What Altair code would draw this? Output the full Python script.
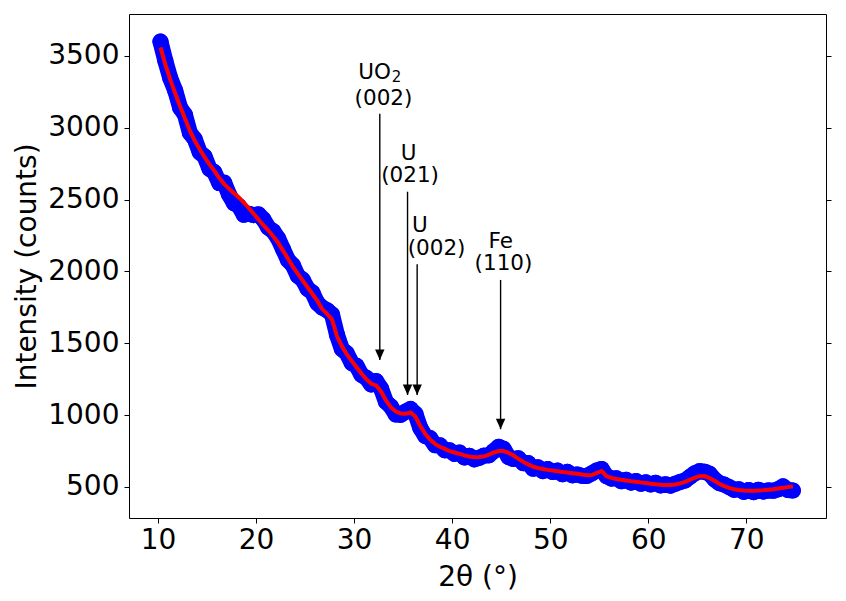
import altair as alt
import pandas as pd

# sampling grid (degrees 2-theta)
two_theta = [round(10.25 + 0.5 * i, 2) for i in range(130)]

# measured counts (blue scatter band)
blue_counts = [
    3600, 3465, 3345, 3260, 3140, 3090, 2965, 2920, 2830, 2800,
    2715, 2690, 2615, 2618, 2535, 2475, 2455, 2395, 2402, 2392,
    2397, 2362, 2305, 2280, 2230, 2155, 2080, 2044, 1970, 1943,
    1880, 1853, 1780, 1748, 1730, 1700, 1560, 1460, 1430, 1363,
    1343, 1280, 1260, 1213, 1237, 1185, 1092, 1060, 1005, 1002,
    1025, 1043, 1010, 910, 855, 840, 790, 790, 755, 755,
    730, 740, 705, 717, 692, 703, 718, 720, 750, 780,
    765, 708, 695, 700, 665, 667, 627, 637, 610, 624,
    604, 614, 589, 605, 581, 587, 577, 577, 595, 615,
    625, 575, 558, 561, 540, 550, 530, 541, 522, 532,
    517, 529, 511, 519, 509, 522, 535, 545, 570, 595,
    610, 606, 592, 553, 527, 516, 499, 480, 484, 466,
    479, 464, 481, 468, 476, 474, 484, 504, 479, 475,
]

# smoothed fit (red line)
red_fit = [
    3560, 3440, 3335, 3240, 3150, 3065, 2980, 2910, 2850, 2795,
    2745, 2700, 2650, 2608, 2575, 2545, 2515, 2480, 2442, 2402,
    2362, 2322, 2285, 2245, 2200, 2145, 2090, 2034, 1985, 1938,
    1890, 1843, 1795, 1738, 1705, 1665, 1550, 1480, 1425, 1378,
    1333, 1290, 1250, 1218, 1207, 1165, 1102, 1055, 1025, 1012,
    1010, 1018, 990, 925, 870, 830, 800, 780, 765, 750,
    740, 730, 720, 712, 707, 708, 713, 725, 740, 750,
    750, 738, 720, 695, 675, 657, 642, 632, 625, 619,
    614, 609, 604, 600, 596, 592, 587, 582, 583, 598,
    610, 575, 563, 556, 550, 545, 540, 536, 532, 527,
    522, 519, 516, 514, 514, 517, 525, 535, 550, 565,
    575, 576, 562, 543, 522, 506, 494, 485, 479, 476,
    474, 474, 476, 478, 481, 484, 489, 494, 499, 505,
]

x_ticks = [10, 20, 30, 40, 50, 60, 70]
y_ticks = [500, 1000, 1500, 2000, 2500, 3000, 3500]

# peak annotations
label_text = ["UO", "2", "(002)", "U", "(021)", "U", "(002)", "Fe", "(110)"]
label_x = [32.10, 34.33, 33.00, 35.56, 35.71, 36.70, 38.41, 44.95, 45.24]
label_y = [3338, 3319, 3162, 2776, 2621, 2273, 2118, 2161, 2007]
label_size = [21.5, 15, 21.5, 21.5, 21.5, 21.5, 21.5, 21.5, 21.5]

arrow_x = [32.62, 35.45, 36.43, 44.94]
arrow_top = [3097, 2555, 2050, 1941]
arrow_tip = [1384, 1140, 1140, 902]

FONT = "DejaVu Sans"

data = pd.DataFrame({"two_theta": two_theta, "blue": blue_counts, "red": red_fit})
labels = pd.DataFrame({"lx": label_x, "ly": label_y, "txt": label_text, "fs": label_size})
arrows = pd.DataFrame({"ax": arrow_x, "top": arrow_top, "tip": arrow_tip})

xs = alt.Scale(domain=[7.04, 78.13], nice=False, zero=False)
ys = alt.Scale(domain=[284, 3792], nice=False, zero=False)

x_axis = alt.Axis(values=x_ticks, title="2θ (°)", titleX=348.5, titleY=67, format="d",
                  titleBaseline="alphabetic", titleAlign="center", labelPadding=3.5)
y_axis = alt.Axis(values=y_ticks, title="Intensity (counts)", titleX=-94, titleY=252,
                  titleBaseline="alphabetic", titleAlign="center", titleAngle=270,
                  labelPadding=5, format="d")
y_axis_right = alt.Axis(values=y_ticks, orient="right", labels=False, title=None)


def X(field):
    return alt.X(field, scale=xs, axis=x_axis, title="2θ (°)")


base = alt.Chart(data)

band_line = base.mark_line(color="#0000ff", strokeWidth=16, strokeCap="round",
                           strokeJoin="round").encode(
    x=X("two_theta:Q"),
    y=alt.Y("blue:Q", scale=ys, axis=y_axis),
)
band_pts = base.mark_circle(color="#0000ff", size=260, opacity=1).encode(
    x=X("two_theta:Q"),
    y=alt.Y("blue:Q", scale=ys, axis=None),
)
red_line = base.mark_line(color="#ff0000", strokeWidth=4).encode(
    x=X("two_theta:Q"),
    y=alt.Y("red:Q", scale=ys, axis=y_axis_right),
)

arrow_lines = alt.Chart(arrows).mark_rule(color="black", strokeWidth=1.4).encode(
    x=X("ax:Q"),
    y=alt.Y("top:Q", scale=ys, axis=None),
    y2="tip:Q",
)
arrow_heads = alt.Chart(arrows).mark_point(
    shape="M-0.45,-1L0.45,-1L0,0Z", filled=True, size=440, color="black", opacity=1
).encode(
    x=X("ax:Q"),
    y=alt.Y("tip:Q", scale=ys, axis=None),
)
texts = alt.Chart(labels).mark_text(font=FONT, align="center", baseline="alphabetic",
                                    color="black").encode(
    x=X("lx:Q"),
    y=alt.Y("ly:Q", scale=ys, axis=None),
    text="txt:N",
    size=alt.Size("fs:Q", scale=None),
)

chart = alt.layer(band_line, band_pts, red_line, arrow_lines, arrow_heads, texts).resolve_scale(
    x="shared", y="shared"
).resolve_axis(
    y="independent"
).properties(
    width=697, height=504,
    autosize=alt.AutoSizeParams(type="none"),
    padding={"left": 121, "top": 6, "right": 12, "bottom": 75},
).configure_axis(
    labelFont=FONT, labelFontSize=28, titleFont=FONT, titleFontSize=28,
    titleFontWeight="normal", labelColor="black", titleColor="black",
    tickColor="black", tickSize=5, tickWidth=1, domain=False, grid=False,
).configure_view(
    stroke="black", strokeWidth=1,
)

chart.save("out.html", embed_options={"renderer": "svg", "actions": False})
